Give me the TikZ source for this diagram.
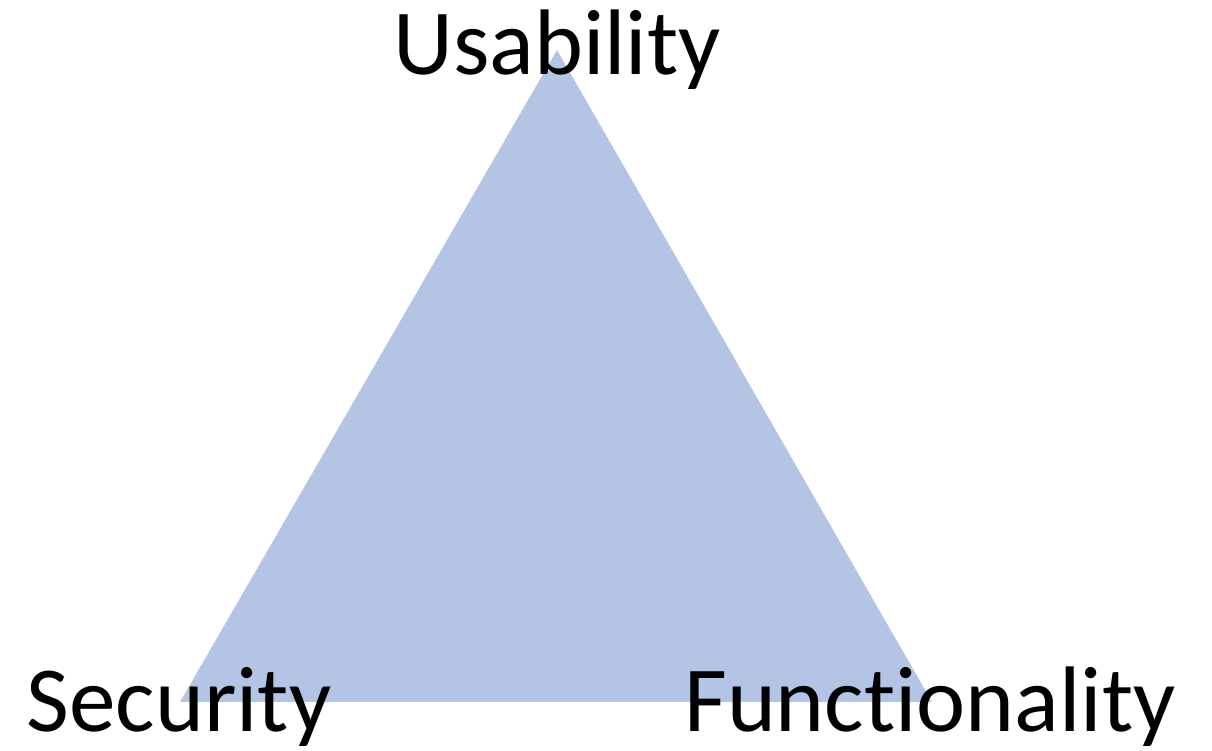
\documentclass[tikz,border=0pt]{standalone}
\usepackage{fontspec}
\setmainfont[Ligatures=NoCommon]{Carlito}
\definecolor{triblue}{HTML}{B4C4E5}
\begin{document}
\begin{tikzpicture}[corner/.style={anchor=base, inner sep=0pt, font=\fontsize{26.5}{30}\selectfont}]
  \useasboundingbox (0,0) rectangle (12.12,7.51);
  % triangle corners
  \coordinate (top) at (5.57,7.01);
  \coordinate (left) at (1.80,0.49);
  \coordinate (right) at (9.32,0.49);
  \fill[triblue] (top) -- (left) -- (right) -- cycle;
  % corner labels
  \node[corner] (usab) at (5.57,6.76) {Usability};
  \node[corner] (secu) at (1.79,0.19) {Security};
  \node[corner] (func) at (9.30,0.19) {Functionality};
\end{tikzpicture}
\end{document}
